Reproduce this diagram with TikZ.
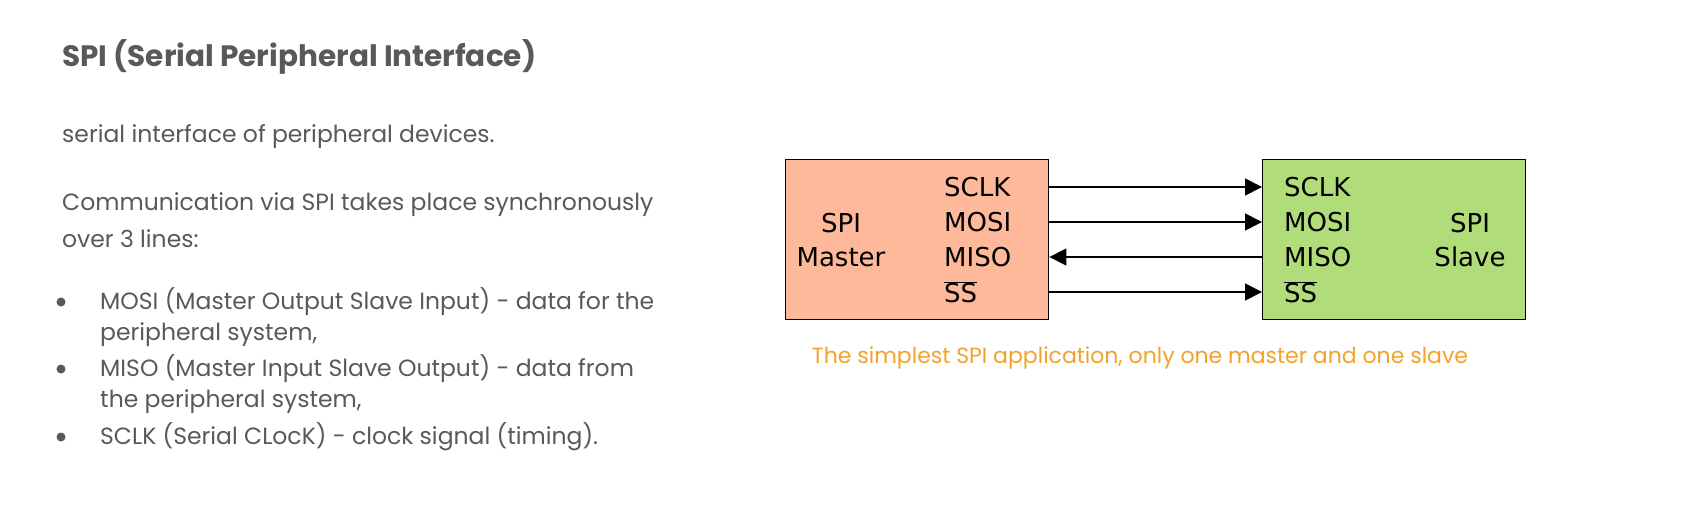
\documentclass[tikz,border=0pt]{standalone}
\usepackage{fontspec}
\setmainfont{Poppins}
\newfontfamily\diagfont{DejaVu Sans}
\usetikzlibrary{arrows.meta}
\definecolor{bodygrey}{HTML}{595959}
\definecolor{masterfill}{HTML}{FDB99A}
\definecolor{slavefill}{HTML}{B1DC7A}
\definecolor{captionorange}{HTML}{F2A22C}
\tikzset{
    txt/.style={anchor=west, inner sep=0pt, text=bodygrey, font=\fontsize{23.5}{28}\selectfont}, % body text
    sig/.style={anchor=west, inner sep=0pt, font=\diagfont\fontsize{26}{34}\selectfont}, % signal names
    chip/.style={draw, line width=1.4pt, minimum width=263pt, minimum height=160pt, anchor=north west},
    wire/.style={line width=1.6pt, -{Triangle[length=17pt, width=17pt]}}
}
\begin{document}
\begin{tikzpicture}[x=1pt, y=-1pt]
            \useasboundingbox (0,0) rectangle (1697,532);

            \node[txt, font=\bfseries\fontsize{29.5}{34}\selectfont] (title) at (62,57) {SPI (Serial Peripheral Interface)};
            \node[txt] (intro) at (62,137) {serial interface of peripheral devices.};
            \node[txt] (comm1) at (62,205) {Communication via SPI takes place synchronously};
            \node[txt] (comm2) at (62,239) {over 3 lines:};
            \foreach \y/\t [count=\i] in {302/{MOSI (Master Output Slave Input) - data for the}, 335/{peripheral system,}, 369/{MISO (Master Input Slave Output) - data from}, 402/{the peripheral system,}, 437/{SCLK (Serial CLocK) - clock signal (timing).}} {
                \node[txt] (line\i) at (100,\y) {\t};}
            \foreach \y in {302,369,437} {\fill[bodygrey] (61,\y) circle (4.5pt);}

            \node[chip, fill=masterfill] (master) at (785,159) {};
            \node[chip, fill=slavefill] (slave) at (1262,159) {};
            \node[sig, anchor=center, align=center] (mlabel) at (841,240) {SPI\\Master};
            \node[sig, anchor=center, align=center] (slabel) at (1470,240) {SPI\\Slave};
            \foreach \y/\n/\t in {187/sclk/SCLK, 222/mosi/MOSI, 257/miso/MISO, 292/ss/$\overline{\mbox{SS}}$} {
                \node[sig] (m\n) at (944,\y) {\t};
                \node[sig] (s\n) at (1284,\y) {\t};
                \coordinate (mo\n) at (master.east |- 0,\y);
                \coordinate (si\n) at (slave.west |- 0,\y);}
            \draw[wire] (mosclk) -- (sisclk);
            \draw[wire] (momosi) -- (simosi);
            \draw[wire] (simiso) -- (momiso);
            \draw[wire] (moss) -- (siss);

            \node[inner sep=0pt, text=captionorange, font=\fontsize{22}{26}\selectfont] (caption) at (1140,358) {The simplest SPI application, only one master and one slave};
        \end{tikzpicture}
\end{document}
